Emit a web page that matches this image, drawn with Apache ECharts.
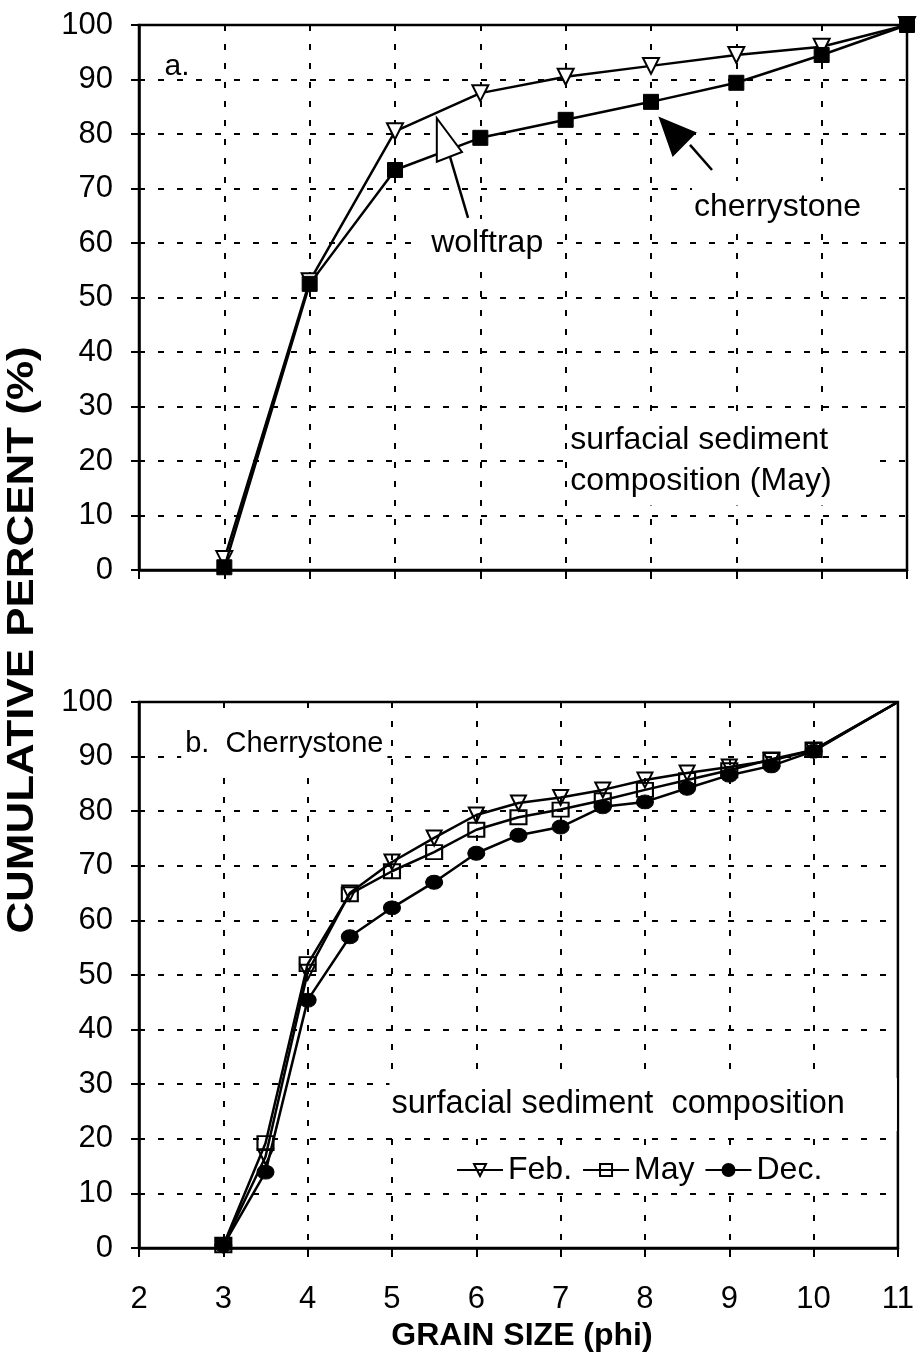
<!DOCTYPE html>
<html>
<head>
<meta charset="utf-8">
<script src="https://cdn.jsdelivr.net/npm/echarts@6/dist/echarts.min.js"></script>
<style>
html,body{margin:0;padding:0;background:#fff;}
#c{width:917px;height:1353px;}
</style>
</head>
<body>
<div id="c"></div>
<script>
// ---- data (panel a: May, two sites) ----
const xA = [3, 4, 5, 6, 7, 8, 9, 10, 11];
const wolftrap = [2, 53, 80.5, 87.5, 90.5, 92.5, 94.5, 96, 100];
const cherrystone = [0.5, 52.5, 73.4, 79.3, 82.6, 85.9, 89.4, 94.5, 100];

// ---- data (panel b: Cherrystone, three months) ----
const xB = [3, 3.5, 4, 4.5, 5, 5.5, 6, 6.5, 7, 7.5, 8, 8.5, 9, 9.5, 10, 11];
const feb = [0.5, 16.7, 50.5, 65, 70.7, 75.1, 79.3, 81.5, 82.5, 83.9, 85.7, 87, 88.1, 89.3, 91.2, 100];
const may = [0.5, 19.2, 52, 64.8, 69, 72.5, 76.6, 78.9, 80.3, 82, 83.9, 85.7, 87.5, 89.5, 91.2, 100];
const dec = [0.5, 13.9, 45.4, 57, 62.3, 67, 72.3, 75.6, 77.1, 80.8, 81.7, 84.2, 86.6, 88.3, 91, 100];

const xTicks = ['2','3','4','5','6','7','8','9','10','11'];
const yTicks = ['0','10','20','30','40','50','60','70','80','90','100'];

const FONT = "'Liberation Sans', Arial, Helvetica, sans-serif";
const chart = echarts.init(document.getElementById('c'), null, {renderer: 'canvas'});

function pairs(xs, ys, lastNoSymbol) {
  return xs.map((x, i) => {
    if (lastNoSymbol && i === xs.length - 1) return {value: [x, ys[i]], symbol: 'none'};
    return [x, ys[i]];
  });
}

const dashed = {show: true, lineStyle: {color: '#000', width: 2, type: [6, 13]}};

function xAxisDef(grid, showLabels) {
  return {
    type: 'value', gridIndex: grid, min: 2, max: 11, interval: 1,
    axisLine: {show: true, onZero: false, lineStyle: {color: '#000', width: 2.5}},
    axisTick: {show: true, length: 9, lineStyle: {color: '#000', width: 2}},
    axisLabel: {show: showLabels, color: '#000', fontSize: 31, fontFamily: FONT, margin: 36,
      formatter: v => xTicks[Math.round(v) - 2]},
    splitLine: dashed
  };
}
function yAxisDef(grid) {
  return {
    type: 'value', gridIndex: grid, min: 0, max: 100, interval: 10,
    axisLine: {show: true, lineStyle: {color: '#000', width: 2.5}},
    axisTick: {show: true, length: 8, lineStyle: {color: '#000', width: 2}},
    axisLabel: {color: '#000', fontSize: 31, fontFamily: FONT, margin: 26,
      formatter: v => yTicks[Math.round(v / 10)]},
    splitLine: dashed
  };
}

const option = {
  animation: false,
  backgroundColor: '#fff',
  grid: [
    {left: 139, top: 25, width: 768, height: 545, show: true, borderColor: '#000', borderWidth: 2.5},
    {left: 139, top: 702, width: 766, height: 546, show: true, borderColor: '#000', borderWidth: 2.5}
  ],
  xAxis: [xAxisDef(0, false), xAxisDef(1, true)],
  yAxis: [yAxisDef(0), yAxisDef(1)],
  legend: {
    data: ['Feb.', 'May', 'Dec.'],
    left: 450, top: 1150,
    itemWidth: 46, itemHeight: 15, itemGap: 10,
    backgroundColor: '#fff', padding: [4, 6],
    textStyle: {color: '#000', fontSize: 32, fontFamily: FONT},
    selectedMode: false
  },
  series: [
    {name: 'wolftrap', type: 'line', xAxisIndex: 0, yAxisIndex: 0, data: pairs(xA, wolftrap),
     symbol: 'triangle', symbolRotate: 180, symbolSize: 16,
     lineStyle: {color: '#000', width: 2.5}, itemStyle: {color: '#fff', borderColor: '#000', borderWidth: 2}, z: 3},
    {name: 'cherrystone', type: 'line', xAxisIndex: 0, yAxisIndex: 0, data: pairs(xA, cherrystone),
     symbol: 'rect', symbolSize: 15,
     lineStyle: {color: '#000', width: 2.5}, itemStyle: {color: '#000', borderColor: '#000', borderWidth: 1}, z: 4},
    {name: 'Feb.', type: 'line', xAxisIndex: 1, yAxisIndex: 1, data: pairs(xB, feb, true),
     symbol: 'triangle', symbolRotate: 180, symbolSize: 15,
     lineStyle: {color: '#000', width: 2.5}, itemStyle: {color: 'rgba(255,255,255,0)', borderColor: '#000', borderWidth: 2}, z: 3},
    {name: 'May', type: 'line', xAxisIndex: 1, yAxisIndex: 1, data: pairs(xB, may, true),
     symbol: 'rect', symbolSize: [16, 14],
     lineStyle: {color: '#000', width: 2.5}, itemStyle: {color: 'rgba(255,255,255,0)', borderColor: '#000', borderWidth: 2}, z: 3},
    {name: 'Dec.', type: 'line', xAxisIndex: 1, yAxisIndex: 1, data: pairs(xB, dec, true),
     symbol: 'circle', symbolSize: [17, 14],
     lineStyle: {color: '#000', width: 2.5}, itemStyle: {color: '#000', borderColor: '#000', borderWidth: 1}, z: 3}
  ]
};
chart.setOption(option);

function P(g, x, y) { return chart.convertToPixel({gridIndex: g}, [x, y]); }

function boxText(g, x, y, text, opts) {
  const p = P(g, x, y);
  return {
    type: 'text', z: 50, x: p[0], y: p[1],
    style: Object.assign({
      text: text, fill: '#000', font: '32px ' + FONT,
      align: 'left', verticalAlign: 'middle',
      backgroundColor: '#fff', padding: [6, 4]
    }, opts || {})
  };
}

// Arrow annotations (anchored in data coordinates of panel a)
const wTip = P(0, 5.49, 82.9), wB1 = P(0, 5.49, 74.9), wB2 = P(0, 5.785, 76.7);
const wT1 = P(0, 5.645, 75.8), wT2 = P(0, 5.856, 64.6);
const cTip = P(0, 8.106, 82.9), cB1 = P(0, 8.258, 76.1), cB2 = P(0, 8.516, 80.2);
const cT1 = P(0, 8.457, 78), cT2 = P(0, 8.715, 73.4);

chart.setOption({
  graphic: [
    boxText(0, 2.3, 92.3, 'a.', {backgroundColor: 'transparent', padding: 0, font: '30px ' + FONT}),
    boxText(0, 6.08, 60, 'wolftrap', {align: 'center', padding: [8, 10]}),
    boxText(0, 8.48, 66.6, 'cherrystone', {padding: [10, 38, 10, 2]}),
    boxText(0, 7.03, 20.1, 'surfacial sediment\ncomposition (May)', {lineHeight: 41, padding: [4, 40, 4, 2]}),
    boxText(1, 2.5, 92.3, 'b.  Cherrystone', {padding: [14, 4, 14, 4], font: '29px ' + FONT}),
    boxText(1, 4.97, 26.3, 'surfacial sediment  composition', {padding: [10, 52, 10, 2], font: '32.5px ' + FONT}),
    {type: 'line', z: 60, shape: {x1: wT1[0], y1: wT1[1], x2: wT2[0], y2: wT2[1]}, style: {stroke: '#000', lineWidth: 2.5}},
    {type: 'polygon', z: 61, shape: {points: [wTip, wB1, wB2]}, style: {fill: '#fff', stroke: '#000', lineWidth: 2}},
    {type: 'line', z: 60, shape: {x1: cT1[0], y1: cT1[1], x2: cT2[0], y2: cT2[1]}, style: {stroke: '#000', lineWidth: 2.5}},
    {type: 'polygon', z: 61, shape: {points: [cTip, cB1, cB2]}, style: {fill: '#000', stroke: '#000', lineWidth: 2}},
    {type: 'text', z: 50, x: 23, y: 640, rotation: Math.PI / 2, scaleX: 1.22,
     style: {text: 'CUMULATIVE PERCENT (%)', fill: '#000', font: 'bold 36px ' + FONT,
       align: 'center', verticalAlign: 'middle'}},
    {type: 'text', z: 50, x: 522, y: 1336,
     style: {text: 'GRAIN SIZE (phi)', fill: '#000', font: 'bold 32px ' + FONT, align: 'center', verticalAlign: 'middle'}}
  ]
});
</script>
</body>
</html>
